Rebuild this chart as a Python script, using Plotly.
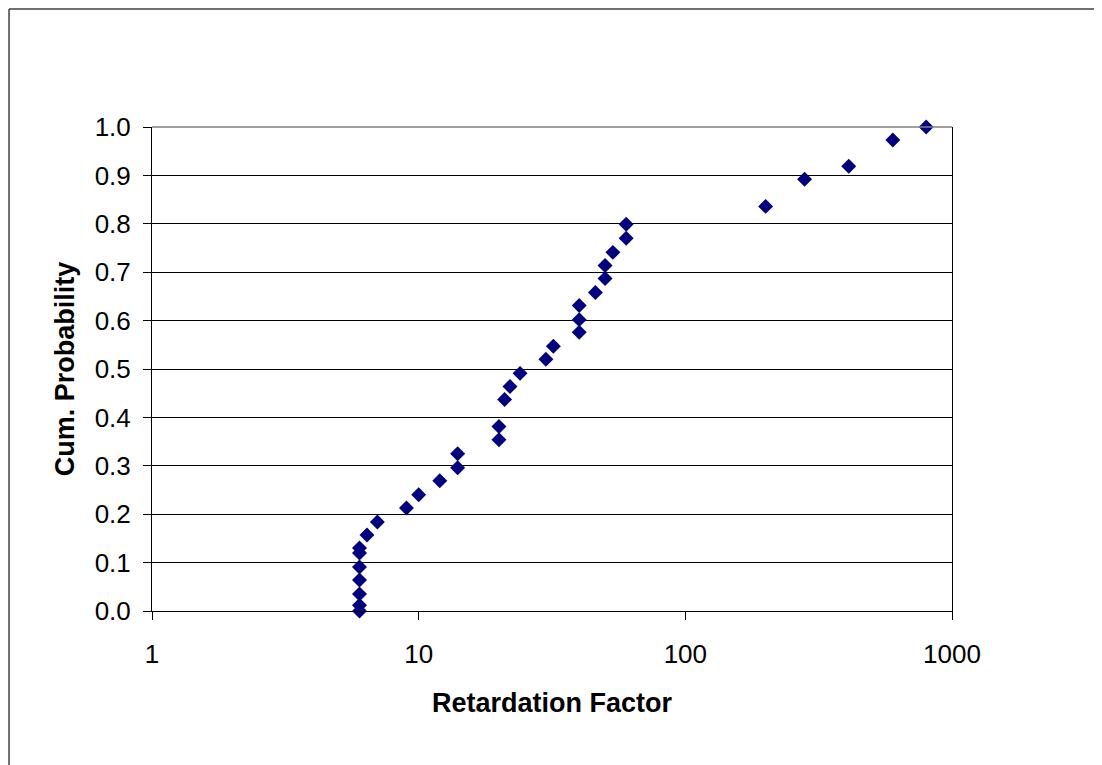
import plotly.graph_objects as go

# Data
retardation_factor = [6, 6, 6, 6, 6, 6, 6, 6.4, 7, 9, 10, 12, 14, 14, 20, 20,
                      21, 22, 24, 30, 32, 40, 40, 40, 46, 50, 50, 53.5, 60, 60,
                      200, 280, 410, 600, 800]
cum_probability = [0.0, 0.012, 0.035, 0.064, 0.091, 0.12, 0.13, 0.157, 0.184,
                   0.213, 0.24, 0.269, 0.296, 0.325, 0.354, 0.381, 0.437, 0.464,
                   0.491, 0.52, 0.547, 0.576, 0.602, 0.631, 0.658, 0.687, 0.714,
                   0.741, 0.77, 0.799, 0.836, 0.892, 0.919, 0.973, 1.0]
x_ticks = [1, 10, 100, 1000]
x_tick_labels = ["1", "10", "100", "1000"]
y_ticks = [i / 10 for i in range(11)]
y_tick_labels = [f"{v:.1f}" for v in y_ticks]

FONT = "Liberation Sans, Arial, sans-serif"

fig = go.Figure()
fig.add_trace(go.Scatter(
    x=retardation_factor, y=cum_probability, mode="markers",
    marker=dict(symbol="diamond", size=11.5, color="#000080", line=dict(width=0)),
    showlegend=False, cliponaxis=False,
))

fig.update_layout(
    width=1102, height=765,
    margin=dict(l=144, r=158, t=119, b=162),
    paper_bgcolor="white", plot_bgcolor="white",
    font=dict(family=FONT, color="black", size=26),
    xaxis=dict(
        type="log", range=[0, 3], tickvals=x_ticks, ticktext=x_tick_labels,
        showgrid=False, zeroline=False,
        showline=True, linecolor="black", linewidth=1,
        ticks="outside", ticklen=8, tickcolor="black", ticklabelstandoff=12,
        tickfont=dict(family=FONT, size=26, color="black"),
        title=dict(text="<b>Retardation Factor</b>", standoff=24,
                   font=dict(family=FONT, size=27, color="black")),
    ),
    yaxis=dict(
        range=[0, 1], tickvals=y_ticks, ticktext=y_tick_labels,
        showgrid=True, gridcolor="black", gridwidth=1, zeroline=False,
        showline=True, linecolor="black", linewidth=1, mirror=True,
        ticks="outside", ticklen=8, tickcolor="black", ticklabelstandoff=7,
        tickfont=dict(family=FONT, size=26, color="black"),
        title=dict(text="<b>Cum. Probability</b>", standoff=12,
                   font=dict(family=FONT, size=27, color="black")),
    ),
    shapes=[
        # plot-area top border (gray)
        dict(type="line", xref="paper", yref="paper", x0=0, x1=1, y0=1, y1=1,
             line=dict(color="#808080", width=1.5)),
        # outer chart border (left and top edges visible)
        dict(type="line", xref="paper", yref="paper",
             x0=-0.1787, x1=-0.1787, y0=-0.4, y1=1.2438,
             line=dict(color="#404040", width=1.5)),
        dict(type="line", xref="paper", yref="paper",
             x0=-0.1787, x1=1.3, y0=1.2438, y1=1.2438,
             line=dict(color="#404040", width=1.5)),
    ],
)

fig.write_html("out.html")
